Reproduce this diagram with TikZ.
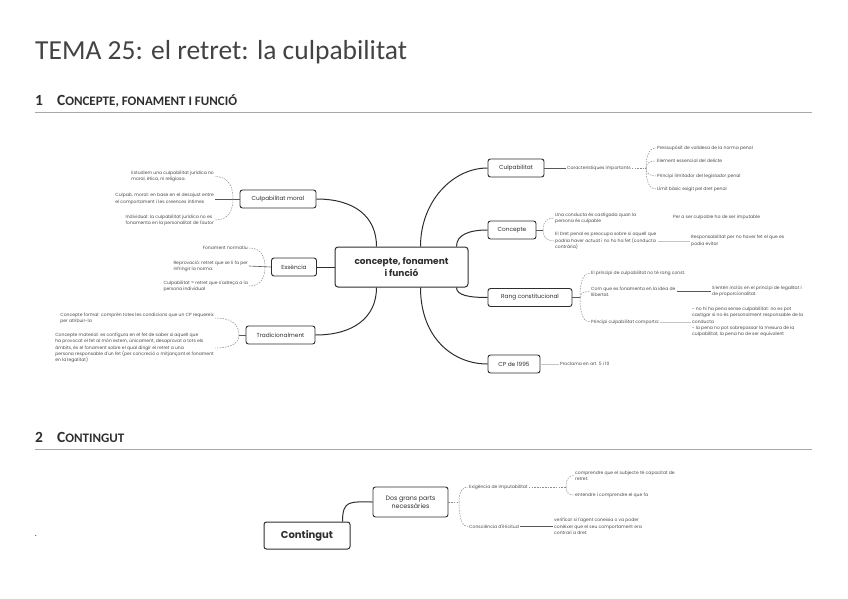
\documentclass[tikz,border=0pt]{standalone}
\usepackage{fontspec}
\setmainfont{Carlito}
\newfontfamily\mapfont{Poppins}
\usepackage{tikz}
\usetikzlibrary{calc}
\definecolor{ink}{HTML}{2E2E2E}
\definecolor{muted}{HTML}{8C8C8C}
\definecolor{faintline}{HTML}{C4C4C4}
\definecolor{leaftext}{HTML}{4A4A4A}
\definecolor{rulegray}{HTML}{A8A8A8}
\tikzset{
  hub/.style={draw=ink, line width=1pt, rounded corners=3pt, fill=white,
              align=center, text=ink, minimum width=133pt, minimum height=40pt,
              font=\mapfont\bfseries\fontsize{9}{11.5}\selectfont},
  topic/.style={draw=ink, line width=0.9pt, rounded corners=2.5pt, fill=white,
                align=center, text=ink, minimum height=18pt, inner xsep=6pt,
                font=\mapfont\fontsize{5.8}{7.5}\selectfont},
  leaf/.style={font=\mapfont\fontsize{4.5}{6.3}\selectfont, text=leaftext,
               align=left, inner sep=1pt},
  heading/.style={anchor=base west, inner sep=0pt, text=ink},
  sechead/.style={heading, font=\bfseries\fontsize{15.5}{17}\selectfont},
  branch/.style={draw=ink, line width=1pt},
  brace/.style={draw=muted, line width=0.5pt, dash pattern=on 1.6pt off 1.1pt},
  tie/.style={draw=ink!80, line width=0.6pt},
  faint/.style={draw=faintline, line width=0.7pt},
}

\begin{document}
\begin{tikzpicture}[x=1pt, y=-1pt]
  \useasboundingbox (0,0) rectangle (848,599);

  \node[heading, font=\fontsize{27.5}{32}\selectfont, text=ink!90] (title) at (35,60)
       {TEMA 25: el retret: la culpabilitat};
  \node[sechead] (sec1) at (35,106)
       {1\hspace{14pt}C{\fontsize{13}{14}\selectfont ONCEPTE, FONAMENT I FUNCIÓ}};
  \node[sechead] (sec2) at (35,442)
       {2\hspace{14pt}C{\fontsize{13}{14}\selectfont ONTINGUT}};
  \draw[rulegray, line width=0.8pt] (35,112) -- (812,112);
  \draw[rulegray, line width=0.8pt] (35,449) -- (812,449);

  % mind map 1
  \node[hub] (hub) at (401.5,267) {concepte, fonament\\i funció};
  \node[topic, minimum width=76pt] (moral) at (278,199) {Culpabilitat moral};
  \node[topic, minimum width=45pt] (ess)   at (294,267) {Essència};
  \node[topic, minimum width=69pt] (trad)  at (280.5,335) {Tradicionalment};
  \node[topic, minimum width=56pt] (culp)  at (516,168) {Culpabilitat};
  \node[topic, minimum width=48pt] (conc)  at (512,230) {Concepte};
  \node[topic, minimum width=84pt] (reng)  at (530,297.5) {Rang constitucional};
  \node[topic, minimum width=52pt] (cp)    at (514,364) {CP de 1995};

  \draw[branch] (moral.east) .. controls +(38,0) and +(0,-30) .. ([xshift=42pt]hub.north west);
  \draw[branch] (ess.east) -- (hub.west);
  \draw[branch] (trad.east) .. controls +(38,0) and +(0,30) .. ([xshift=42pt]hub.south west);
  \draw[branch] ([xshift=-48pt]hub.north east) .. controls +(0,-45) and +(-35,0) .. (culp.west);
  \draw[branch] ([xshift=-12pt]hub.north east) .. controls +(0,-12) and +(-18,0) .. (conc.west);
  \draw[branch] ([xshift=-12pt]hub.south east) .. controls +(0,8) and +(-18,0) .. (reng.west);
  \draw[branch] ([xshift=-48pt]hub.south east) .. controls +(0,50) and +(-35,0) .. (cp.west);

  \node[leaf, anchor=east] (m1) at (215,176.5)
       {Estudiem una culpabilitat jurídica no\\moral, ètica, ni religiosa.};
  \node[leaf, anchor=east] (m2) at (215,199)
       {Culpab. moral: en base en el desajust entre\\el comportament i les creences íntimes};
  \node[leaf, anchor=east] (m3) at (215,220)
       {Individual: la culpabilitat jurídica no es\\fonamenta en la personalitat de l'autor};
  \coordinate (jm) at (233,199);

  \node[leaf, anchor=east] (e1) at (249,248) {Fonament normatiu};
  \node[leaf, anchor=east] (e2) at (249,266)
       {Reprovació: retret que se li fa per\\infringir la norma.};
  \node[leaf, anchor=east] (e3) at (249,286)
       {Culpabilitat = retret que s'adreça a la\\persona individual};
  \coordinate (je) at (265,267);

  \node[leaf, anchor=east] (t1) at (215,318)
       {Concepte formal: comprèn totes les condicions que un CP requereix\\per atribuir-la};
  \node[leaf, anchor=east] (t2) at (215,348)
       {Concepte material: es configura en el fet de saber si aquell que\\
        ha provocat el fet al món extern, únicament, desaprovat a tots els\\
        àmbits, és el fonament sobre el qual dirigir el retret a una\\
        persona responsable d'un fet (per concreció o mitjançant el fonament\\
        en la legalitat)};
  \coordinate (jt) at (239,335);

  \node[leaf, anchor=west] (k) at (566,168) {Característiques importants};
  \coordinate (jc) at (646,168);
  \node[leaf, anchor=west] (c1) at (656,148) {Pressupòsit de validesa de la norma penal};
  \node[leaf, anchor=west] (c2) at (656,161) {Element essencial del delicte};
  \node[leaf, anchor=west] (c3) at (656,176) {Principi limitador del legislador penal};
  \node[leaf, anchor=west] (c4) at (656,189) {Límit bàsic exigit pel dret penal};

  \coordinate (jk) at (543,230);
  \node[leaf, anchor=west] (k1) at (554,218)
       {Una conducta és castigada quan la\\persona és culpable};
  \node[leaf, anchor=west] (k2) at (554,241)
       {El Dret penal es preocupa sobre si aquell que\\podria haver actuat i no ho ha fet (conducta\\contrària)};
  \node[leaf, anchor=west] (k1a) at (672,217) {Per a ser culpable ha de ser imputable};
  \node[leaf, anchor=west] (k2a) at (690,241)
       {Responsabilitat per no haver fet el que es\\podia evitar};

  \coordinate (jr) at (580,297.5);
  \node[leaf, anchor=west] (r1) at (590,273) {El principi de culpabilitat no té rang const.};
  \node[leaf, anchor=west] (r2) at (590,291.5)
       {Com que es fonamenta en la idea de\\llibertat.};
  \node[leaf, anchor=west] (r3) at (590,322) {Principi culpabilitat comporta:};
  \node[leaf, anchor=west] (r2a) at (711,291.5)
       {S'entén inclòs en el principi de legalitat i\\de proporcionalitat.};
  \node[leaf, anchor=west] (r3a) at (691,322)
       {- no hi ha pena sense culpabilitat: no es pot\\
        castigar si no és personalment responsable de la\\
        conducta\\
        - la pena no pot sobrepassar la mesura de la\\
        culpabilitat, la pena ha de ser equivalent};

  \node[leaf, anchor=west] (p1) at (559,364) {Proclama en art. 5 i 10};

  \foreach \a/\b in {m2/moral, e2/ess}
    \draw[tie] (\a.east) -- (\b.west);
  \draw[tie] (jt) -- (trad.west);
  \foreach \a/\b in {culp/k, r2/r2a}
    \draw[tie] (\a.east) -- (\b.west);
  \foreach \a/\b in {k2/k2a, r3/r3a, cp/p1}
    \draw[faint] (\a.east) -- (\b.west);
  \draw[tie] (conc.east) -- (jk);
  \draw[tie] (reng.east) -- (jr);
  \draw[brace] (k.east) -- (jc);

  \foreach \j/\l in {jm/m1, jm/m3, je/e1, je/e3, jt/t1, jt/t2}
    \draw[brace] (\j) .. controls ($(\j)!0.8!(\j |- \l.east)$) and ($(\l.east)!0.5!(\j |- \l.east)$) .. (\l.east);
  \foreach \j/\l in {jc/c1, jc/c2, jc/c3, jc/c4, jk/k1, jk/k2, jr/r1, jr/r2, jr/r3}
    \draw[brace] (\j) .. controls ($(\j)!0.8!(\j |- \l.west)$) and ($(\l.west)!0.5!(\j |- \l.west)$) .. (\l.west);

  % mind map 2
  \node[topic, minimum width=86pt, minimum height=27pt, line width=1pt,
        font=\mapfont\bfseries\fontsize{10}{12}\selectfont] (cont) at (307,535.5) {Contingut};
  \node[topic, minimum width=75pt, minimum height=30pt,
        font=\mapfont\fontsize{6.3}{8}\selectfont] (dos) at (410.5,502) {Dos grans parts\\necessàries};
  \draw[branch] ([xshift=-8pt]cont.north east) .. controls +(0,-22) and +(-22,0) .. (dos.west);

  \coordinate (jd) at (459,502);
  \node[leaf, anchor=west] (x1) at (468,487) {Exigència de imputabilitat};
  \node[leaf, anchor=west] (x2) at (468,526.5) {Consciència d'il·licitud};
  \coordinate (jx) at (566,487);
  \node[leaf, anchor=west] (x1a) at (574,475.5)
       {comprendre que el subjecte té capacitat de\\retret.};
  \node[leaf, anchor=west] (x1b) at (574,495) {entendre i comprendre el que fa};
  \node[leaf, anchor=west] (x2a) at (553,526.5)
       {verificar si l'agent coneixia o va poder\\conèixer que el seu comportament era\\contrari a dret.};

  \draw[brace] (dos.east) -- (jd);
  \draw[brace] (x1.east) -- (jx);
  \draw[tie] (x2.east) -- (x2a.west);
  \foreach \j/\l in {jd/x1, jd/x2, jx/x1a, jx/x1b}
    \draw[brace] (\j) .. controls ($(\j)!0.8!(\j |- \l.west)$) and ($(\l.west)!0.5!(\j |- \l.west)$) .. (\l.west);

  \node[font=\fontsize{8}{8}\selectfont, inner sep=0pt] (dot) at (36,536) {.};
\end{tikzpicture}
\end{document}
